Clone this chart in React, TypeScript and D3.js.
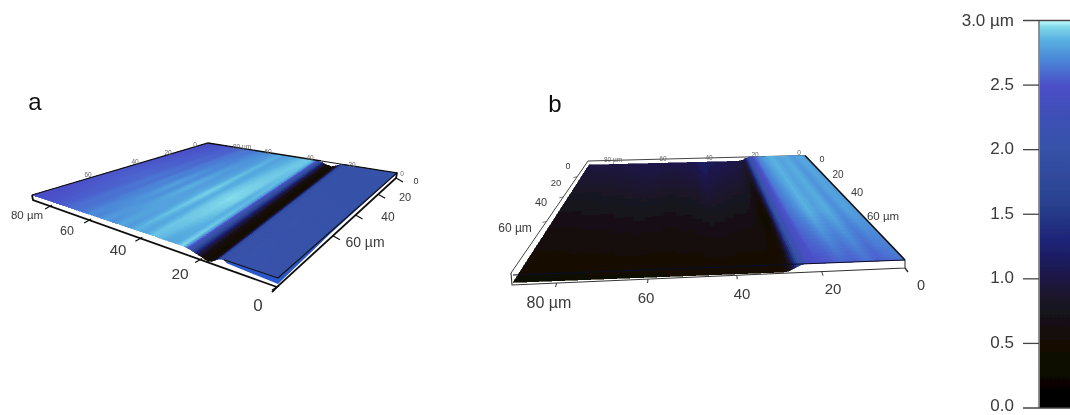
import React from "react";
import * as d3 from "d3";

type Pt = [number, number];

// ---------- colour bar ----------
const colorStops = [0, 0.5, 0.85, 1.1, 1.3, 1.6, 2.0, 2.3, 2.5, 2.7, 2.85, 2.95, 3.0];
const colorValues = ["#000000", "#140e04", "#1a1428", "#1c1a58", "#1e2478", "#2a4290", "#3652a8", "#4050b8", "#4c50c8", "#4c88d8", "#58b0e0", "#80d8ea", "#c8ffff"];
const barTicks = [0, 0.5, 1, 1.5, 2, 2.5, 3];
const barTickLabels = ["0.0", "0.5", "1.0", "1.5", "2.0", "2.5", "3.0 µm"];

// ---------- panel a ----------
const xA = [0, 5, 10, 14, 15, 16, 17, 18, 19, 20, 21, 22, 23, 24, 25, 26, 28, 30, 33, 36, 39, 42, 45, 48, 51, 54, 57, 60, 63, 66, 70, 74, 78, 82, 86];
const frontA = [2.02, 2.03, 2.03, 2.02, 1.9, 1.2, 0.55, 0.42, 0.5, 0.72, 1.05, 1.45, 1.85, 2.3, 2.76, 2.96, 2.84, 2.8, 2.86, 2.9, 2.8, 2.86, 2.76, 2.82, 2.72, 2.78, 2.68, 2.72, 2.64, 2.62, 2.6, 2.55, 2.52, 2.5, 2.47];
const midA = [2.0, 2.02, 2.03, 2.02, 1.9, 1.2, 0.55, 0.42, 0.5, 0.72, 1.05, 1.45, 1.85, 2.3, 2.76, 2.88, 2.84, 2.94, 2.96, 2.92, 2.84, 2.94, 2.82, 2.78, 2.86, 2.72, 2.8, 2.68, 2.7, 2.62, 2.64, 2.58, 2.58, 2.55, 2.52];
const backA = [2.0, 2.0, 2.0, 2.0, 1.85, 1.2, 0.55, 0.4, 0.5, 0.72, 1.05, 1.45, 1.85, 2.3, 2.74, 2.88, 2.92, 2.9, 2.86, 2.82, 2.78, 2.84, 2.76, 2.74, 2.7, 2.68, 2.62, 2.64, 2.6, 2.56, 2.55, 2.53, 2.52, 2.5, 2.48];
const dipA = [0, 0, 0, 0, 0.1, 0.4, 0.8, 1, 0.85, 0.65, 0.5, 0.38, 0.25, 0.14, 0.05, 0, 0, 0, 0, 0, 0, 0, 0, 0, 0, 0, 0, 0, 0, 0, 0, 0, 0, 0, 0];
const axisXA = [0, 20, 40, 60, 80, 86];
const axisYA = [0, 20, 40, 60, 90];
const xTicksA = [0, 20, 40, 60, 80];
const yTicksA = [0, 20, 40, 60];

// ---------- panel b ----------
const xB = [0, 3, 6, 9, 12, 15, 18, 21, 23, 24, 25, 26, 27, 28, 29, 30, 31, 32, 34, 36, 38, 41, 44, 48, 52, 56, 60, 65, 70, 75, 80, 85, 90];
const frontB = [2.65, 2.6, 2.55, 2.62, 2.55, 2.58, 2.52, 2.5, 2.4, 2.3, 2.05, 1.5, 0.9, 0.62, 0.52, 0.48, 0.46, 0.44, 0.44, 0.43, 0.43, 0.44, 0.44, 0.43, 0.43, 0.43, 0.42, 0.42, 0.42, 0.41, 0.41, 0.4, 0.4];
const midB = [2.76, 2.8, 2.72, 2.84, 2.78, 2.86, 2.72, 2.62, 2.45, 2.3, 2.0, 1.35, 0.6, 0.35, 0.42, 0.55, 0.62, 0.66, 0.68, 0.68, 0.7, 0.72, 0.74, 0.7, 0.68, 0.66, 0.68, 0.7, 0.68, 0.66, 0.66, 0.64, 0.64];
const backB = [2.78, 2.82, 2.76, 2.84, 2.8, 2.86, 2.8, 2.68, 2.45, 2.2, 1.8, 1.3, 0.92, 0.95, 1.0, 1.02, 1.04, 1.04, 1.04, 1.06, 1.08, 1.1, 1.18, 1.05, 1.03, 1.02, 1.02, 1.04, 1.02, 1.0, 0.98, 0.98, 0.98];
const dropB = [0, 0, 0, 0, 0, 0, 0, 0, 0, 0, 0.15, 0.4, 0.7, 0.9, 1, 1, 1, 1, 1, 1, 1, 1, 1, 1, 1, 1, 1, 1, 1, 1, 1, 1, 1];
const axisXB = [0, 20, 40, 60, 80, 90];
const axisYB = [0, 20, 40, 60, 90];
const xTicksB = [0, 20, 40, 60, 80];
const yTicksB = [0, 20, 40, 60];

const lerp = (a: Pt, b: Pt, t: number): Pt => [a[0] + (b[0] - a[0]) * t, a[1] + (b[1] - a[1]) * t];
const colorScale = d3.scaleLinear<string>().domain(colorStops).range(colorValues).clamp(true);
const pts = (p: Pt[]) => p.map((q) => `${q[0].toFixed(2)},${q[1].toFixed(2)}`).join(" ");

interface SurfProps {
  xs: number[]; rows: number[][]; relief: number[];
  uOf: (x: number) => number; warp: (u: number) => number;
  f0: Pt; f1: Pt; b0: Pt; b1: Pt; zFront: number; zBack: number; xMax: number;
}

function project(p: SurfProps, reliefAt: (x: number) => number, x: number, v: number): Pt {
  const u = p.uOf(x);
  const a = lerp(p.f0, p.f1, u);
  const b = lerp(p.b0, p.b1, p.warp(u));
  const q = lerp(a, b, v);
  return [q[0], q[1] + reliefAt(x) * (p.zFront + (p.zBack - p.zFront) * v)];
}

function Surface(p: SurfProps) {
  const reliefAt = d3.scaleLinear().domain(p.xs).range(p.relief).clamp(true);
  const front = d3.scaleLinear().domain(p.xs).range(p.rows[0]).clamp(true);
  const mid = d3.scaleLinear().domain(p.xs).range(p.rows[1]).clamp(true);
  const back = d3.scaleLinear().domain(p.xs).range(p.rows[2]).clamp(true);
  const height = (x: number, v: number) =>
    v < 0.5 ? front(x) + (mid(x) - front(x)) * v * 2 : mid(x) + (back(x) - mid(x)) * (v - 0.5) * 2;
  const step = 0.4;
  const sx = d3.range(0, p.xMax, step);
  const dv = 1 / 30;
  const sv = d3.range(0, 30).map((j) => j * dv);
  const quads: React.ReactNode[] = [];
  sx.forEach((x, i) => {
    const x2 = Math.min(x + step, p.xMax);
    sv.forEach((v, j) => {
      const col = colorScale(height(x + step / 2, v + dv / 2));
      quads.push(
        <polygon key={`${i}-${j}`} fill={col} stroke={col} strokeWidth={0.6} shapeRendering="crispEdges"
          points={pts([project(p, reliefAt, x, v), project(p, reliefAt, x2, v), project(p, reliefAt, x2, v + dv), project(p, reliefAt, x, v + dv)])} />
      );
    });
  });
  return <g>{quads}</g>;
}

const INK = "#111";
const TXT = "#3a3a3a";
const FONT = "'Liberation Sans', Arial, sans-serif";

function Label({ x, y, s, t, c = TXT, a = "middle" }: { x: number; y: number; s: number; t: string; c?: string; a?: "middle" | "end" | "start" }) {
  return <text x={x} y={y} fontSize={s} fill={c} textAnchor={a} dominantBaseline="middle" fontFamily={FONT}>{t}</text>;
}

function PanelA() {
  const F0: Pt = [32, 195], F1: Pt = [278, 278], B0: Pt = [208, 143], B1: Pt = [397, 173];
  const uOf = d3.scaleLinear().domain(axisXA).range([1, 0.685, 0.44, 0.23, 0.07, 0]);
  const warp = d3.scaleLinear().domain([0, 0.73, 1]).range([0, 0.665, 1]);
  const baseL: Pt = [33, 200], baseF: Pt = [277, 287], baseR: Pt = [396, 178];
  const vOf = d3.scaleLinear().domain(axisYA).range([1, 0.85, 0.66, 0.47, 0]);
  const edgeLow = lerp(F0, F1, uOf(14));
  const xPos = [[258, 307, 17], [180, 275, 15.5], [118, 251, 15], [67, 232, 12.5]];
  const yPos = [[416, 182, 9], [405, 198, 11], [388, 218, 12], [365, 243, 14]];
  return (
    <g>
      <Label x={35} y={104} s={24} t="a" c="#111" />
      {/* blue wall under low plateau */}
      <polygon fill="#2c58cc" points={pts([edgeLow, F1, [278, 284], [edgeLow[0] + 3, edgeLow[1] + 3.5]])} />
      <polygon fill="#2c58cc" points={pts([F1, B1, [394, 176], [330, 234], [278, 284]])} />
      <polygon fill="#fff" points={pts([[279, 286], [394, 180], [394, 176.5], [342, 226], [279, 283.5]])} />
      <Surface xs={xA} rows={[frontA, midA, backA]} relief={dipA} uOf={uOf} warp={warp} f0={F0} f1={F1} b0={B0} b1={B1} zFront={7} zBack={4} xMax={86} />
      {/* frame */}
      <polyline fill="none" stroke={INK} strokeWidth={1.3} points={pts([F0, B0, lerp(B0, B1, 0.6)])} />
      <polyline fill="none" stroke={INK} strokeWidth={1.2} points={pts([lerp(B0, B1, 0.72), B1, F1])} />
      <line x1={lerp(B0, B1, 0.6)[0]} y1={lerp(B0, B1, 0.6)[1]} x2={lerp(B0, B1, 0.72)[0]} y2={lerp(B0, B1, 0.72)[1]} stroke={INK} strokeWidth={1} />
      <polyline fill="none" stroke={INK} strokeWidth={1.1} points={pts([edgeLow, F1])} />
      <polyline fill="none" stroke={INK} strokeWidth={1.8} points={pts([F0, baseL, baseF, baseR, B1])} />
      <line x1={baseF[0]} y1={baseF[1]} x2={baseF[0] - 5} y2={baseF[1] + 5} stroke={INK} strokeWidth={1.8} />
      {xTicksA.map((x) => {
        const q = lerp(baseL, baseF, uOf(x));
        return <line key={x} x1={q[0] - 5} y1={q[1] + 3} x2={q[0] + 2} y2={q[1] - 1} stroke={INK} strokeWidth={1.2} />;
      })}
      {yTicksA.map((y) => {
        const q = lerp(baseF, baseR, vOf(y));
        return <line key={y} x1={q[0]} y1={q[1]} x2={q[0] + 7} y2={q[1] + 4} stroke={INK} strokeWidth={1.2} />;
      })}
      {xTicksA.map((x, i) => (
        <Label key={x} x={xPos[i] ? xPos[i][0] : 27} y={xPos[i] ? xPos[i][1] : 216} s={xPos[i] ? xPos[i][2] : 11.5} t={x === 80 ? "80 µm" : String(x)} />
      ))}
      {yTicksA.map((y, i) => (
        <Label key={y} x={yPos[i][0]} y={yPos[i][1]} s={yPos[i][2]} t={y === 60 ? "60 µm" : String(y)} />
      ))}
      {[["60", 88, 175], ["40", 135, 162], ["20", 168, 153], ["0", 195, 145], ["80 µm", 242, 147], ["60", 268, 152], ["40", 310, 158], ["20", 352, 165], ["0", 402, 174]].map(([t, x, y], i) => (
        <Label key={i} x={x as number} y={y as number} s={6.5} t={t as string} c="#666" />
      ))}
    </g>
  );
}

function PanelB() {
  const F0: Pt = [513, 275], F1: Pt = [905, 260], B0: Pt = [589, 161], B1: Pt = [805, 155.5];
  const uOf = d3.scaleLinear().domain(axisXB).range([1, 0.788, 0.572, 0.346, 0.114, 0]);
  const warp = d3.scaleLinear().domain([0, 1]).range([0, 1]);
  const baseL: Pt = [512, 285], baseR: Pt = [905, 268];
  const vOf = d3.scaleLinear().domain(axisYB).range([1, 0.86, 0.68, 0.46, 0]);
  const xPos = [[921, 286, 14.5], [833, 290, 15], [742, 295, 15], [646, 299, 15], [549, 304, 16]];
  const yLeft = [[568, 167, 9], [556, 183, 9.5], [541, 203, 11], [515, 229, 12]];
  const yRight = [[822, 160, 9], [838, 175, 10], [857, 193, 11], [883, 217, 11.5]];
  const leftLine0: Pt = [511, 273], leftLine1: Pt = [588, 161];
  return (
    <g>
      <Label x={555} y={106} s={24} t="b" c="#111" />
      <polyline fill="none" stroke="#444" strokeWidth={1} points={pts([leftLine0, leftLine1, B1])} />
      <Surface xs={xB} rows={[frontB, midB, backB]} relief={dropB} uOf={uOf} warp={warp} f0={F0} f1={F1} b0={B0} b1={B1} zFront={7.5} zBack={4} xMax={90} />
      <line x1={F0[0]} y1={F0[1]} x2={F1[0]} y2={F1[1]} stroke="#0b0b2a" strokeWidth={1} />
      <line x1={B1[0]} y1={B1[1]} x2={F1[0]} y2={F1[1]} stroke={INK} strokeWidth={1.6} />
      <polyline fill="none" stroke="#333" strokeWidth={1.1} points={pts([leftLine0, baseL, baseR, F1])} />
      <line x1={baseR[0]} y1={baseR[1]} x2={baseR[0] + 3} y2={baseR[1] + 4} stroke="#222" strokeWidth={1.3} />
      {xTicksB.filter((x) => x > 0).map((x) => {
        const q = lerp(baseL, baseR, uOf(x));
        const lean = (uOf(x) - 0.45) * 4;
        return <line key={x} x1={q[0]} y1={q[1]} x2={q[0] + lean} y2={q[1] + 4} stroke="#333" strokeWidth={1} />;
      })}
      {yTicksB.filter((y) => y > 0).map((y) => {
        const q = lerp(leftLine0, leftLine1, vOf(y));
        return <line key={y} x1={q[0]} y1={q[1]} x2={q[0] - 4} y2={q[1] + 1} stroke="#555" strokeWidth={0.8} />;
      })}
      {xTicksB.map((x, i) => (
        <Label key={x} x={xPos[i][0]} y={xPos[i][1]} s={xPos[i][2]} t={x === 80 ? "80 µm" : String(x)} />
      ))}
      {yTicksB.map((y, i) => (
        <Label key={y} x={yLeft[i][0]} y={yLeft[i][1]} s={yLeft[i][2]} t={y === 60 ? "60 µm" : String(y)} />
      ))}
      {yTicksB.map((y, i) => (
        <Label key={y} x={yRight[i][0]} y={yRight[i][1]} s={yRight[i][2]} t={y === 60 ? "60 µm" : String(y)} />
      ))}
      {[["80 µm", 613, 160], ["60", 663, 159], ["40", 709, 158], ["20", 755, 155], ["0", 799, 153]].map(([t, x, y], i) => (
        <Label key={i} x={x as number} y={y as number} s={6.5} t={t as string} c="#666" />
      ))}
    </g>
  );
}

function ColorBar() {
  const y = d3.scaleLinear().domain([0, 3]).range([408, 20.5]);
  return (
    <g>
      <defs>
        <linearGradient id="barGrad" x1="0" y1="1" x2="0" y2="0">
          {colorStops.map((h, i) => (
            <stop key={h} offset={h / 3} stopColor={colorValues[i]} />
          ))}
        </linearGradient>
      </defs>
      <rect x={1039.5} y={y(3)} width={31} height={y(0) - y(3)} fill="url(#barGrad)" />
      <line x1={1039} y1={y(3)} x2={1039} y2={y(0)} stroke="#777" strokeWidth={1.6} />
      {barTicks.map((t, i) => (
        <g key={t}>
          <line x1={1023} x2={t === 0 || t === 3 ? 1070 : 1039} y1={y(t)} y2={y(t)} stroke="#444" strokeWidth={1.3} />
          <text x={1014} y={t === 3 ? y(t) + 1.5 : t === 0 ? y(t) - 1.5 : y(t)} textAnchor="end" dominantBaseline="middle" fontFamily={FONT} fontSize={17} fill={TXT}>{barTickLabels[i]}</text>
        </g>
      ))}
    </g>
  );
}

export default function App() {
  return (
    <svg width={1070} height={415} viewBox="0 0 1070 415" style={{ position: "absolute", left: 0, top: 0, background: "#fff" }}>
      <defs>
        <filter id="soft" x="0" y="0" width="100%" height="100%">
          <feGaussianBlur stdDeviation="0.45" />
        </filter>
      </defs>
      <g filter="url(#soft)">
        <PanelA />
        <PanelB />
        <ColorBar />
      </g>
    </svg>
  );
}
